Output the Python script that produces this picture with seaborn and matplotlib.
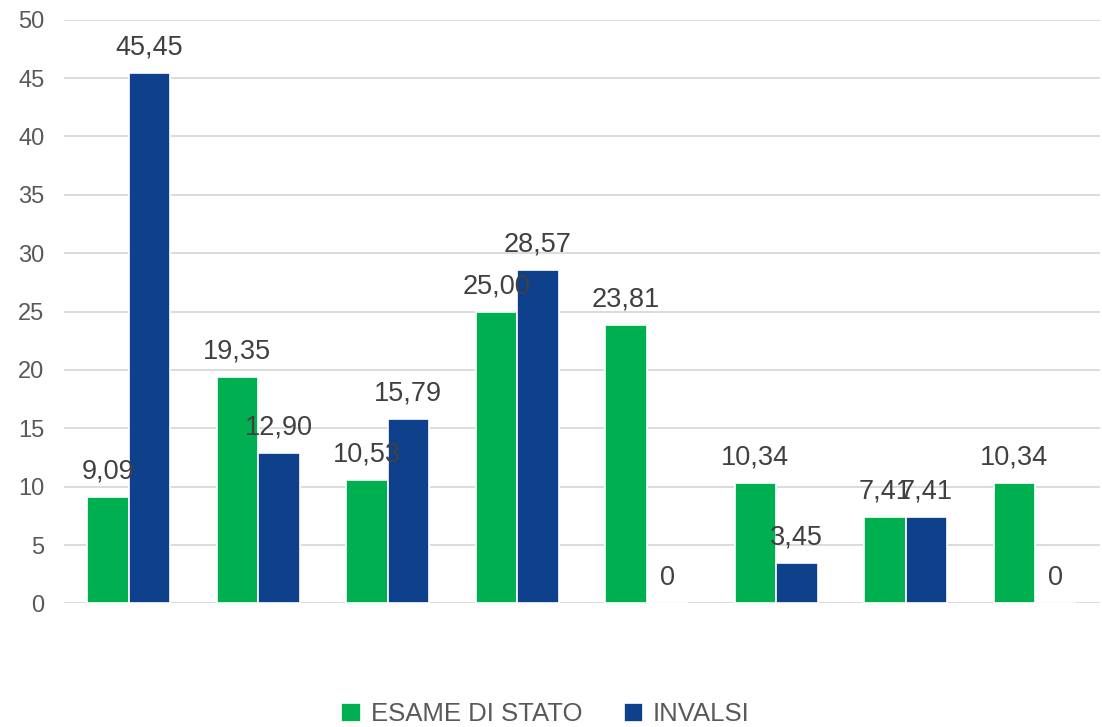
import pandas as pd
import seaborn as sns
import matplotlib.pyplot as plt

categories = ["1", "2", "3", "4", "5", "6", "7", "8"]
esame = [9.09, 19.35, 10.53, 25.00, 23.81, 10.34, 7.41, 10.34]
invalsi = [45.45, 12.90, 15.79, 28.57, 0, 3.45, 7.41, 0]
series_names = ["ESAME DI STATO", "INVALSI"]
colors = ["#00AF50", "#0E408C"]

df = pd.DataFrame({
    "cat": categories * 2,
    "serie": [series_names[0]] * len(categories) + [series_names[1]] * len(categories),
    "val": esame + invalsi,
})

sns.set_style("white")
plt.rcParams["font.family"] = ["Liberation Sans", "DejaVu Sans"]

fig = plt.figure(figsize=(11.02, 7.27), dpi=100)
ax = fig.add_axes([0.058, 0.17, 0.94, 0.803])

sns.barplot(data=df, x="cat", y="val", hue="serie", palette=colors, saturation=1,
            width=0.64, edgecolor="white", linewidth=1.2, ax=ax)

def fmt(v):
    if v == 0:
        return "0"
    return f"{v:.2f}".replace(".", ",")

for cont in ax.containers:
    for bar in cont:
        h = bar.get_height()
        ax.annotate(fmt(h), (bar.get_x() + bar.get_width() / 2, h),
                    xytext=(0, 9), textcoords="offset points",
                    ha="center", va="bottom", fontsize=19.5, color="#404040")

ax.set_ylim(0, 50)
ax.set_yticks(range(0, 51, 5))
ax.yaxis.grid(True, color="#D9D9D9", linewidth=1.3)
ax.set_axisbelow(True)
ax.set_xlim(-0.5, 7.5)
ax.set_xticklabels([])
ax.tick_params(axis="x", length=0)
ax.tick_params(axis="y", length=0, labelsize=17, labelcolor="#595959", pad=14)
ax.set_xlabel("")
ax.set_ylabel("")
sns.despine(ax=ax, left=True, bottom=True)

leg = ax.legend(loc="lower center", bbox_to_anchor=(0.465, -0.25), ncol=2, frameon=False,
                fontsize=18.5, handlelength=0.75, handleheight=0.75, columnspacing=1.6,
                handletextpad=0.4)
for t in leg.get_texts():
    t.set_color("#595959")

fig.savefig("out.png", dpi=100)
